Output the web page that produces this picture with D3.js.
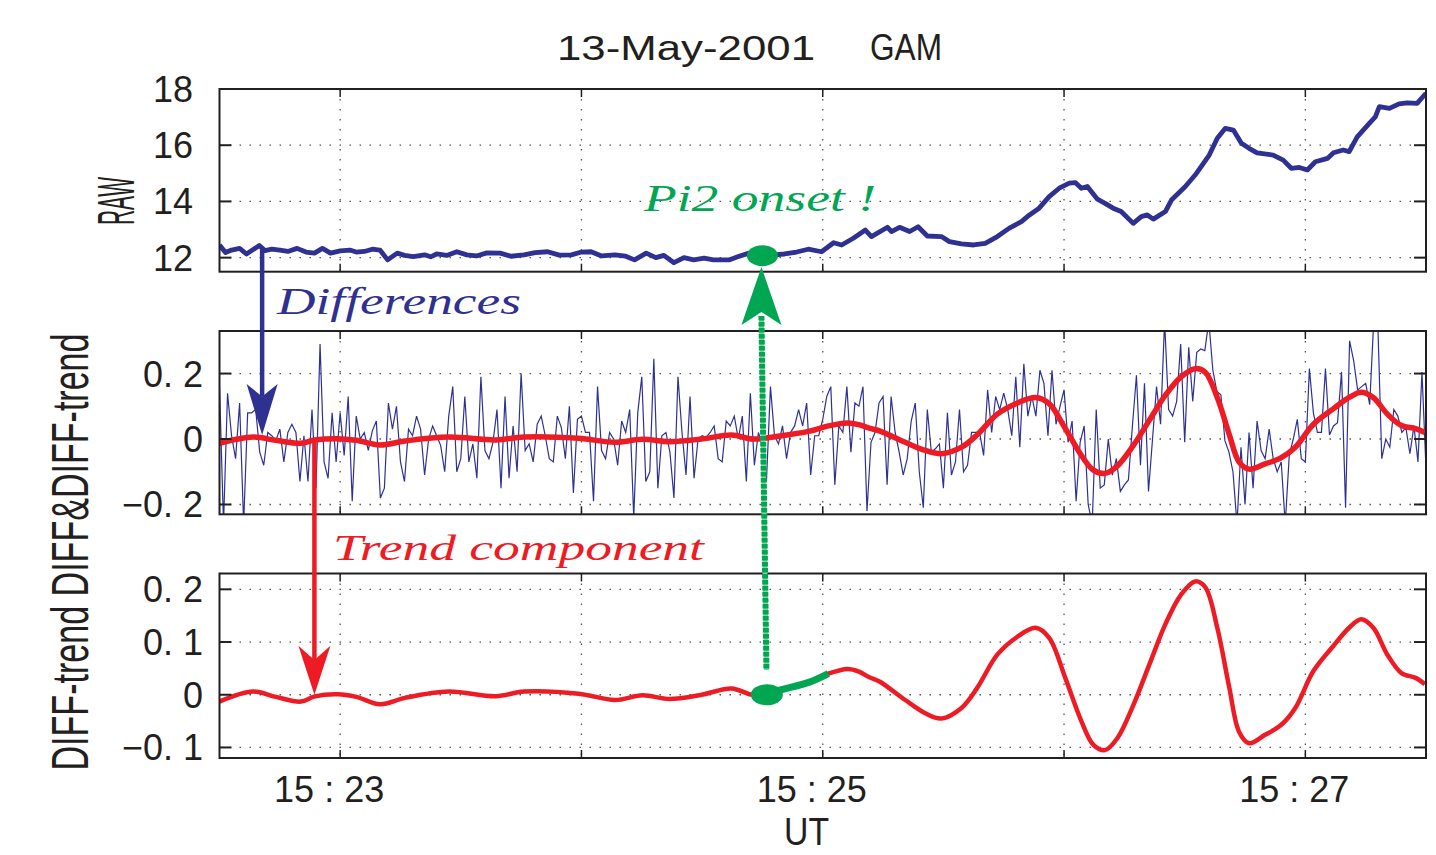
<!DOCTYPE html>
<html><head><meta charset="utf-8">
<script src="https://cdn.jsdelivr.net/npm/d3@7"></script>
<style>body{margin:0;background:#fff}svg{display:block}</style>
</head><body><svg id="c" width="1436" height="855"></svg>
<script>
// ---------------- DATA ----------------
const titleParts = ["13-May-2001", "GAM"];
const xLabel = "UT";
const rawLabel = "RAW";
const lowerLabel = "DIFF-trend DIFF&DIFF-trend";
const startTime = new Date(2001, 4, 13, 15, 22, 30);
const endTime = new Date(2001, 4, 13, 15, 27, 30);
const timeTickLabels = ["15:23", "15:25", "15:27"];
const rawTicks = [12, 14, 16, 18];
const rawTickLabels = ["12", "14", "16", "18"];
const diffTicks = [-0.2, 0, 0.2];
const diffTickLabels = ["\u22120. 2", "0", "0. 2"];
const dtTicks = [-0.1, 0, 0.1, 0.2];
const dtTickLabels = ["\u22120. 1", "0", "0. 1", "0. 2"];

// RAW (seconds after 15:22:30, value)
const rawSeconds = [0,1.5,3,5,6.7,9.9,11.3,13,15,17,19.3,21.5,23.6,25.6,27.6,30,32.4,34,36,38,39.9,41.8,44.2,46,48.2,51,52.5,54,56.5,59,61.5,63.9,66.5,69.8,72.5,75.7,78.5,81.6,84.5,87.5,90,92.4,95,98.3,101,103.2,106.1,108.5,110.5,113,115.5,117.9,120.5,122.8,126.7,129,131.7,135,138,140.5,143.5,146.4,149.7,152.7,154.7,157.6,160.6,162.1,166.1,167.1,169.1,171.6,173.7,176,179.5,181.5,184.5,187.5,190.4,193.4,196.4,199.4,201.4,203.8,206.3,208.8,211.3,212.8,214.3,215.8,218.3,220.2,222.2,224.2,227.2,229.2,230.7,232.2,235.2,236.7,240.1,242.6,246.1,248.1,250.1,252.1,254.1,256,258,262,264.5,266.5,268.5,270.5,272.5,275.5,277,279.4,280.9,282.9,285.9,287.4,288.4,290.9,293.3,295.3,297.8,300];
const rawValues = [12.45,12.18,12.27,12.33,12.13,12.43,12.25,12.3,12.27,12.22,12.33,12.2,12.16,12.33,12.16,12.24,12.27,12.2,12.22,12.3,12.27,11.92,12.16,12.08,12.04,12.1,12.03,12.13,12.08,12.21,12.1,12.06,12.17,12.16,12.05,12.1,12.18,12.21,12.09,12.1,12.2,12.21,12.06,12.1,12.05,11.92,12.16,12.0,12.08,11.82,12.0,11.92,11.98,11.92,11.92,12.04,12.16,12.16,12.1,12.13,12.2,12.3,12.21,12.53,12.45,12.69,12.98,12.75,13.08,12.93,13.08,12.93,13.1,12.77,12.75,12.57,12.49,12.45,12.51,12.75,13.05,13.28,13.52,13.76,14.17,14.47,14.65,14.67,14.47,14.53,14.08,13.93,13.76,13.64,13.22,13.46,13.52,13.37,13.64,14.05,14.52,14.94,15.65,16.25,16.6,16.54,16.07,15.89,15.73,15.65,15.47,15.18,15.21,15.12,15.41,15.53,15.73,15.83,15.77,16.3,16.78,17.01,17.37,17.31,17.47,17.51,17.49,17.85];

// DIFF, one value per second from 15:22:30
const diffValues = [
0.16,-0.26,0.14,0.01,-0.06,0.11,-0.26,0.08,0.08,0.09,
-0.04,-0.08,0.02,0.01,-0.005,0.03,-0.07,0.02,0.045,0.02,
-0.13,0.01,-0.13,0.09,-0.15,0.29,-0.07,-0.12,0.08,-0.07,
0.08,-0.05,0.13,-0.19,0.07,0.0,0.02,-0.035,0.025,0.055,
-0.18,-0.15,0.11,0.03,0.10,-0.07,-0.13,0.03,0.01,0.07,
0.03,-0.11,0.0,0.04,0.01,-0.02,-0.10,0.07,0.16,-0.10,
-0.06,0.13,-0.07,-0.015,-0.12,0.19,-0.035,-0.06,-0.01,0.09,
-0.15,0.13,-0.12,0.04,-0.10,0.20,-0.035,-0.015,-0.07,0.045,
0.07,0.01,-0.06,-0.07,0.07,0.035,-0.06,0.10,-0.165,0.06,
0.07,0.02,0.02,-0.19,0.16,-0.035,-0.06,0.02,0.0,-0.08,
0.055,0.02,0.09,-0.24,0.08,0.19,-0.13,-0.10,0.245,-0.15,
0.01,0.02,-0.04,-0.18,0.19,0.02,-0.11,0.13,-0.12,0.0,
0.01,0.005,0.02,0.04,-0.06,-0.07,0.055,0.04,0.07,0.0,
0.07,-0.13,0.14,-0.08,0.02,-0.02,-0.13,0.16,0.01,-0.015,
0.04,-0.06,0.02,0.04,0.09,0.04,0.11,-0.11,0.01,0.01,
0.06,0.13,0.16,-0.14,0.04,0.02,0.16,-0.04,0.11,0.10,
0.16,-0.22,-0.01,0.02,0.11,0.13,-0.14,0.13,0.02,-0.04,
-0.11,-0.06,0.055,0.11,-0.10,-0.21,0.09,-0.04,-0.03,-0.015,
-0.15,0.08,-0.11,-0.07,0.09,-0.10,-0.08,0.02,0.02,0.02,
-0.05,0.15,0.02,0.13,0.09,0.14,0.09,0.01,0.19,-0.025,
0.23,0.07,0.13,0.07,0.21,0.17,0.01,0.21,0.045,0.10,
0.15,-0.01,0.055,-0.19,-0.01,0.04,-0.20,-0.26,0.09,-0.15,
-0.14,0.0,-0.11,-0.06,-0.16,-0.14,-0.125,0.04,0.195,-0.08,
0.17,-0.16,0.0,0.16,0.045,0.36,0.09,0.07,0.115,0.29,
-0.01,0.28,0.115,0.265,0.275,0.27,0.36,0.21,0.145,0.135,
-0.005,-0.04,-0.10,-0.26,-0.025,-0.20,0.02,-0.15,0.055,-0.035,
-0.06,0.03,-0.06,-0.10,-0.07,-0.26,-0.05,0.0,0.06,-0.06,
-0.07,0.215,0.08,0.02,0.02,0.215,0.012,0.04,0.05,0.205,
-0.21,0.30,0.24,0.15,0.16,0.17,0.105,0.36,0.36,-0.06,
0.0,-0.025,0.09,0.07,0.02,0.035,-0.045,0.04,-0.07,0.205,
-0.09];

// Trend component (seconds after 15:22:30, value)
const trendSeconds = [0,8.3,14,20.2,23.7,29.4,34,39.9,46.1,57,68.7,75.7,89.3,98.3,105.2,111.9,119.9,127.3,132.5,136,141,146.7,151.4,156.1,159,161.6,164.1,170.5,175.5,179.5,184.5,188.4,193.4,198.4,202.9,206.3,210.3,214.3,217.3,220.2,223.2,227.2,231.2,235.2,239.1,242.6,245.1,248.1,251.1,253.5,256,260,264,267.5,272,276.9,280.9,283.9,286.9,290.4,293.9,297.4,299.7];
const trendValues = [-0.013,0.006,-0.004,-0.013,-0.003,0.001,-0.004,-0.018,-0.006,0.006,-0.003,0.006,0.002,-0.01,-0.001,-0.008,0.0,0.012,0.0,0.003,0.012,0.024,0.04,0.049,0.044,0.033,0.025,-0.01,-0.035,-0.045,-0.025,0.013,0.076,0.11,0.127,0.108,0.032,-0.05,-0.095,-0.105,-0.083,-0.02,0.057,0.134,0.19,0.215,0.204,0.127,0.013,-0.07,-0.092,-0.076,-0.057,-0.025,0.045,0.092,0.127,0.143,0.127,0.076,0.041,0.032,0.02];

const onsetSecond = 135;
const onsetEndSecond = 151.4;
const annotations = { diff: "Differences", trend: "Trend component", onset: "Pi2 onset !" };

// ---------------- DRAWING ----------------
const NAVY = "#2e3192", RED = "#ed1c24", GREEN = "#00a651", INK = "#231f20";
const svg = d3.select("#c");
const t = s => new Date(startTime.getTime() + s * 1000);

const x = d3.scaleTime().domain([startTime, endTime]).range([219.5, 1426]);
const panels = [
  { top: 89, bottom: 271.7, y: d3.scaleLinear().domain([11.5, 18]).range([271.7, 89]), ticks: rawTicks, labels: rawTickLabels, labelX: 193 },
  { top: 331, bottom: 514.3, y: d3.scaleLinear().domain([-0.23, 0.33]).range([514.3, 331]), ticks: diffTicks, labels: diffTickLabels, labelX: 203 },
  { top: 573.5, bottom: 758, y: d3.scaleLinear().domain([-0.12, 0.23]).range([758, 573.5]), ticks: dtTicks, labels: dtTickLabels, labelX: 203 }
];
const minuteTicks = d3.timeMinute.every(1).range(startTime, endTime);
const fontSans = "'Liberation Sans', Arial, sans-serif";
const fontSerif = "'Liberation Serif', 'Times New Roman', serif";

panels.forEach((p, k) => {
  const g = svg.append("g");
  const [x0, x1] = x.range();
  svg.append("clipPath").attr("id", "clip" + k).append("rect")
    .attr("x", x0).attr("y", p.top).attr("width", x1 - x0).attr("height", p.bottom - p.top);
  minuteTicks.forEach(m => {
    g.append("line").attr("x1", x(m)).attr("x2", x(m)).attr("y1", p.top).attr("y2", p.bottom)
      .attr("stroke", "#555").attr("stroke-width", 1.3).attr("stroke-dasharray", "1.5 8.5");
  });
  p.ticks.forEach(v => {
    g.append("line").attr("x1", x0).attr("x2", x1).attr("y1", p.y(v)).attr("y2", p.y(v))
      .attr("stroke", "#555").attr("stroke-width", 1.3).attr("stroke-dasharray", "1.5 8.5");
  });
  p.g = g;
});

// RAW line
const rawLine = d3.line().x(d => x(t(d[0]))).y(d => panels[0].y(d[1]));
panels[0].g.append("path").attr("clip-path", "url(#clip0)")
  .attr("d", rawLine(rawSeconds.map((s, i) => [s, rawValues[i]])))
  .attr("fill", "none").attr("stroke", NAVY).attr("stroke-width", 4.8).attr("stroke-linejoin", "round");

// DIFF line
const diffLine = d3.line().x(d => x(t(d[0]))).y(d => panels[1].y(d[1]));
panels[1].g.append("path").attr("clip-path", "url(#clip1)")
  .attr("d", diffLine(diffValues.map((v, i) => [i, v])))
  .attr("fill", "none").attr("stroke", NAVY).attr("stroke-width", 1.2);

// Trend lines
const trendPts = trendSeconds.map((s, i) => [s, trendValues[i]]);
[1, 2].forEach(k => {
  const ln = d3.line().curve(d3.curveCatmullRom.alpha(0.5)).x(d => x(t(d[0]))).y(d => panels[k].y(d[1]));
  panels[k].g.append("path").attr("clip-path", "url(#clip" + k + ")")
    .attr("d", ln(trendPts)).attr("fill", "none").attr("stroke", RED)
    .attr("stroke-width", k === 1 ? 5.5 : 4.5).attr("stroke-linejoin", "round");
  panels[k].line = ln;
});

// frames, ticks, labels
panels.forEach((p, k) => {
  const [x0, x1] = x.range();
  const g = svg.append("g");
  g.append("rect").attr("x", x0).attr("y", p.top).attr("width", x1 - x0).attr("height", p.bottom - p.top)
    .attr("fill", "none").attr("stroke", INK).attr("stroke-width", 2);
  p.ticks.forEach((v, i) => {
    g.append("line").attr("x1", x0).attr("x2", x0 + 12).attr("y1", p.y(v)).attr("y2", p.y(v)).attr("stroke", INK).attr("stroke-width", 2);
    g.append("line").attr("x1", x1).attr("x2", x1 - 12).attr("y1", p.y(v)).attr("y2", p.y(v)).attr("stroke", INK).attr("stroke-width", 2);
    g.append("text").attr("x", p.labelX).attr("y", p.y(v) + 13).attr("text-anchor", "end")
      .attr("font-family", fontSans).attr("font-size", 36).attr("fill", INK).text(p.labels[i]);
  });
  minuteTicks.forEach(m => {
    g.append("line").attr("x1", x(m)).attr("x2", x(m)).attr("y1", p.top).attr("y2", p.top + 8).attr("stroke", INK).attr("stroke-width", 1.5);
    g.append("line").attr("x1", x(m)).attr("x2", x(m)).attr("y1", p.bottom).attr("y2", p.bottom - 8).attr("stroke", INK).attr("stroke-width", 1.5);
  });
});

// x tick labels
const labelTimes = timeTickLabels.map(s => { const [h, m] = s.split(":").map(Number); return new Date(2001, 4, 13, h, m, 0); });
labelTimes.forEach((m, i) => {
  svg.append("text").attr("x", x(m) - 11).attr("y", 802).attr("text-anchor", "middle")
    .attr("font-family", fontSans).attr("font-size", 36).attr("fill", INK)
    .text(timeTickLabels[i].replace(":", " : "));
});

// title
svg.append("text").attr("x", 557).attr("y", 60).attr("font-family", fontSans).attr("font-size", 35)
  .attr("textLength", 258).attr("lengthAdjust", "spacingAndGlyphs").attr("fill", INK).text(titleParts[0]);
svg.append("text").attr("x", 870).attr("y", 60).attr("font-family", fontSans).attr("font-size", 36)
  .attr("textLength", 72).attr("lengthAdjust", "spacingAndGlyphs").attr("fill", INK).text(titleParts[1]);

// axis labels (condensed)
function vlabel(txt, bx, cy, size, len) {
  svg.append("text").attr("transform", `translate(${bx},${cy}) rotate(-90)`).attr("x", -len / 2).attr("y", 0)
    .attr("font-family", fontSans).attr("font-size", size).attr("textLength", len)
    .attr("lengthAdjust", "spacingAndGlyphs").attr("fill", INK).text(txt);
}
vlabel(rawLabel, 134, 201, 51, 48);
vlabel(lowerLabel, 88, 552, 52, 437);
svg.append("text").attr("x", 784).attr("y", 845).attr("font-family", fontSans).attr("font-size", 38)
  .attr("textLength", 45).attr("lengthAdjust", "spacingAndGlyphs").attr("fill", INK).text(xLabel);

// annotations
function serifText(txt, x0, base, size, len, color) {
  svg.append("text").attr("x", x0).attr("y", base).attr("font-family", fontSerif).attr("font-style", "italic")
    .attr("font-size", size).attr("textLength", len).attr("lengthAdjust", "spacingAndGlyphs").attr("fill", color).text(txt);
}
serifText(annotations.diff, 277, 314, 38, 244, NAVY);
serifText(annotations.trend, 333, 560, 36, 371, RED);
serifText(annotations.onset, 644, 210.5, 38, 232, GREEN);

function arrow(cx, y0, tip, back, notch, halfW, color, lw) {
  svg.append("line").attr("x1", cx).attr("x2", cx).attr("y1", y0).attr("y2", notch)
    .attr("stroke", color).attr("stroke-width", lw);
  svg.append("path").attr("d", `M${cx},${tip}L${cx - halfW},${back}L${cx},${notch}L${cx + halfW},${back}Z`).attr("fill", color);
}
const xb = x(t(10.6));
arrow(xb, panels[0].y(12.35), panels[1].y(0.012), panels[1].y(0.168), panels[1].y(0.13), 15.5, NAVY, 4.5);
const xr = x(t(23.6));
arrow(xr, panels[1].y(0.0), panels[2].y(0.0), panels[2].y(0.093), panels[2].y(0.066), 16, RED, 4.5);

// green onset marks
const xo = x(t(onsetSecond));
const xo2 = x(t(onsetSecond + 1));
svg.append("line").attr("x1", xo - 1).attr("x2", xo2).attr("y1", 316).attr("y2", panels[2].y(0.047))
  .attr("stroke", "#7fd19e").attr("stroke-width", 5);
svg.append("line").attr("x1", xo - 1).attr("x2", xo2).attr("y1", 316).attr("y2", panels[2].y(0.047))
  .attr("stroke", GREEN).attr("stroke-width", 6).attr("stroke-dasharray", "4.5 1.5");
svg.append("path").attr("d", `M${xo - 1},${267}L${xo - 21},${325}L${xo - 1},${312}L${xo + 19},${325}Z`).attr("fill", GREEN);
svg.append("ellipse").attr("cx", xo).attr("cy", panels[0].y(12.07)).attr("rx", 15.5).attr("ry", 10.5).attr("fill", GREEN);

const onsetPts = trendPts.filter(d => d[0] >= onsetSecond + 1 && d[0] <= onsetEndSecond);
svg.append("path").attr("d", panels[2].line(onsetPts)).attr("fill", "none").attr("stroke", GREEN)
  .attr("stroke-width", 7).attr("stroke-linecap", "butt");
svg.append("ellipse").attr("cx", x(t(onsetSecond + 1.1))).attr("cy", panels[2].y(0.0)).attr("rx", 16).attr("ry", 10.5).attr("fill", GREEN);
</script>
</body></html>
